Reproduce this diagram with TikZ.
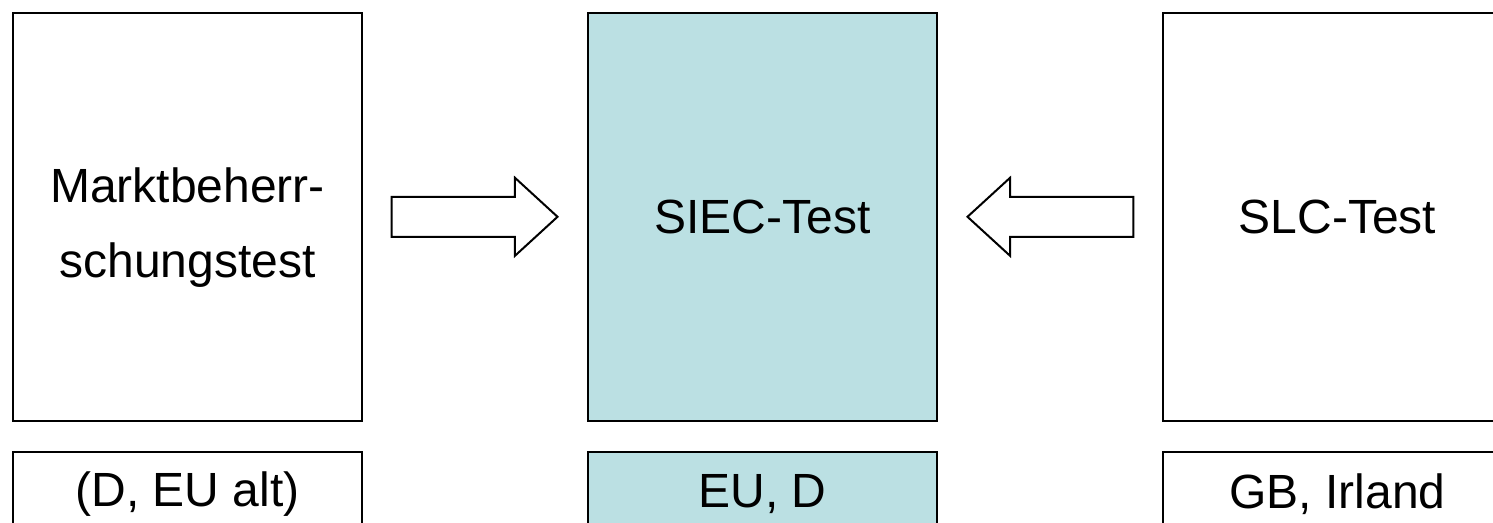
\documentclass[tikz,border=0pt]{standalone}
\usepackage{fontspec}
\setmainfont{Liberation Sans}
\usetikzlibrary{shapes.arrows}
\definecolor{siecblue}{RGB}{187,224,227}
\tikzset{
  testbox/.style={draw, line width=1pt, minimum width=174.5pt, minimum height=204.2pt, align=center, inner sep=0pt},
  regionbox/.style={draw, line width=1pt, minimum width=174.5pt, minimum height=42pt, inner sep=0pt},
  shiftarrow/.style={draw, line width=1pt, single arrow, single arrow head extend=9.5pt, single arrow tip angle=85, minimum height=83pt, inner xsep=0pt, inner ysep=9.5pt}
}
\begin{document}
\begin{tikzpicture}[x=0.5pt, y=-0.5pt, font=\fontsize{24pt}{37.5pt}\selectfont]
    \useasboundingbox (0,0) rectangle (1493,523);
    \clip (0,0) rectangle (1493,523);

    % Tests - top row
    \node[testbox] (markt) at (187.5,216.8) {\rule{0pt}{28pt}Marktbeherr-\\schungstest};
    \node[testbox, fill=siecblue] (siec) at (762.5,216.8) {SIEC-Test};
    \node[testbox] (slc) at (1337.5,216.8) {SLC-Test};

    % Jurisdictions - bottom row
    \node[regionbox] (marktland) at (187.5,493.7) {(D, EU alt)};
    \node[regionbox, fill=siecblue] (siecland) at (762.5,493.7) {EU, D};
    \node[regionbox] (slcland) at (1337.5,493.7) {GB, Irland};

    % Arrows
    \node[shiftarrow, anchor=tip] (toright) at ([xshift=-14pt]siec.west) {};
    \node[shiftarrow, shape border rotate=180, anchor=tip] (toleft) at ([xshift=14pt]siec.east) {};
\end{tikzpicture}
\end{document}
